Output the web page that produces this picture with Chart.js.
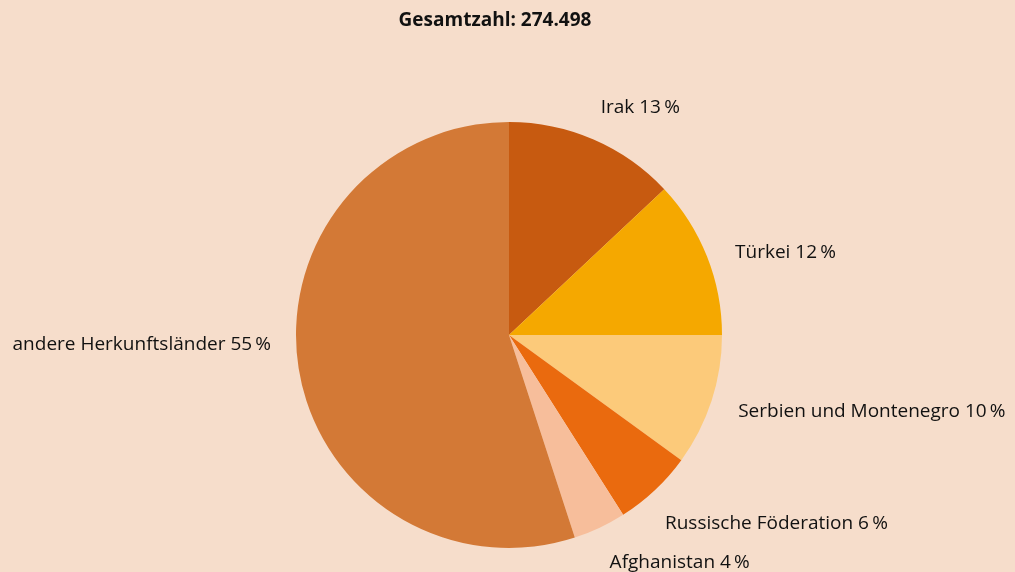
<!DOCTYPE html>
<html>
<head>
<meta charset="utf-8">
<script src="https://cdn.jsdelivr.net/npm/chart.js@4/dist/chart.umd.min.js"></script>
<style>
  html, body { margin: 0; padding: 0; background: #F6DDCB; }
  #wrap { width: 1015px; height: 572px; }
</style>
</head>
<body>
<div id="wrap"><canvas id="myChart" width="1015" height="572"></canvas></div>
<script>
const countries = ['Irak', 'Türkei', 'Serbien und Montenegro', 'Russische Föderation', 'Afghanistan', 'andere Herkunftsländer'];
const shares = [13, 12, 10, 6, 4, 55];
const total = '274.498';
const colors = ['#C75A10', '#F5A800', '#FCCA7A', '#EA6A0E', '#F7BE9B', '#D37936'];

// small nudges for where the labels sit (px), same order as countries
const labelNudge = [[-4, -6], [2, 6], [0, 2], [-9, 13], [-2, 10], [0, -28]];

const labelPlugin = {
    id: 'outerLabels',
    afterDraw(chart) {
        const c = chart.ctx;
        const meta = chart.getDatasetMeta(0);
        c.save();
        c.fillStyle = '#111';
        c.textBaseline = 'middle';
        c.font = '19px "Open Sans", sans-serif';
        meta.data.forEach((arc, i) => {
            const mid = (arc.startAngle + arc.endAngle) / 2;
            const r = arc.outerRadius + 28;
            const x = arc.x + Math.cos(mid) * r + labelNudge[i][0];
            const y = arc.y + Math.sin(mid) * r + labelNudge[i][1];
            c.textAlign = Math.cos(mid) >= 0 ? 'left' : 'right';
            c.fillText(countries[i] + ' ' + shares[i] + '\u2009%', x, y);
        });
        c.font = 'bold 19px "Open Sans", sans-serif';
        c.textAlign = 'center';
        c.fillText('Gesamtzahl: ' + total, 495, 21);
        c.restore();
    }
};

const ctx = document.getElementById('myChart');
let myChart = new Chart(ctx, {
    type: 'pie',
    data: {
        labels: countries,
        datasets: [{
            data: shares,
            backgroundColor: colors,
            borderWidth: 0
        }]
    },
    options: {
        responsive: false,
        animation: false,
        layout: { padding: { top: 122, bottom: 24, left: 200, right: 197 } },
        plugins: {
            legend: { display: false },
            tooltip: { enabled: false }
        }
    },
    plugins: [labelPlugin]
});
</script>
</body>
</html>
